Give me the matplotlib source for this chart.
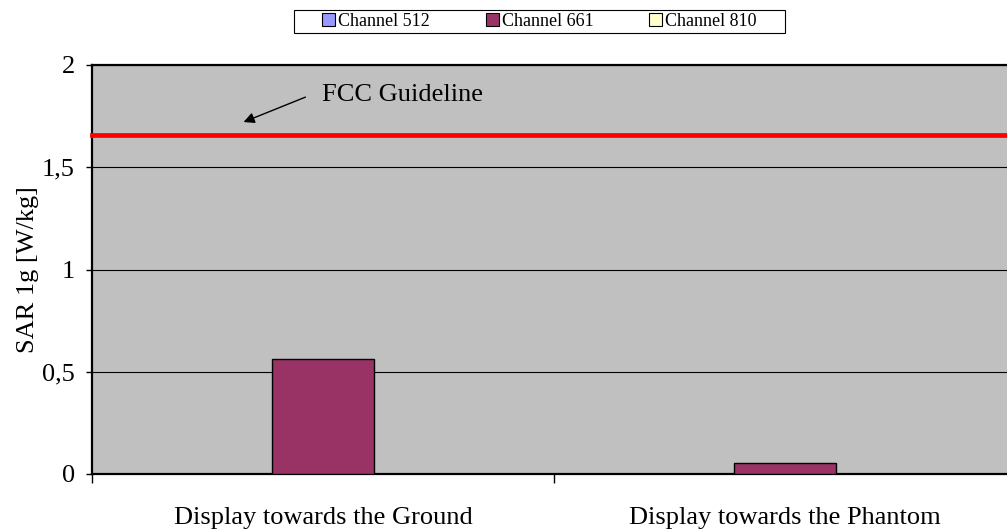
import numpy as np
import matplotlib
matplotlib.use("Agg")
import matplotlib.pyplot as plt
from matplotlib.patches import Patch, Rectangle

# data
categories = ["Display towards the Ground", "Display towards the Phantom"]
series_names = ["Channel 512", "Channel 661", "Channel 810"]
ch512 = [0.0, 0.0]
ch661 = [0.564, 0.056]
ch810 = [0.0, 0.0]
fcc_level = 1.656
y_ticks = [0, 0.5, 1, 1.5, 2]
y_tick_labels = ["0", "0,5", "1", "1,5", "2"]

colors = ["#9999FF", "#993366", "#FFFFCC"]

plt.rcParams["font.family"] = ["Liberation Serif", "DejaVu Serif"]

W, H = 1007, 531
fig = plt.figure(figsize=(W / 100, H / 100), dpi=100)
ax = fig.add_axes([92 / W, 57 / H, 924 / W, 409 / H])
ax.set_facecolor("#C0C0C0")

x = np.arange(len(categories))
w = 1 / 4.5
for i, vals in enumerate([ch512, ch661, ch810]):
    ax.bar(x + (i - 1) * w, vals, w, color=colors[i], edgecolor="black",
           linewidth=1, zorder=3)

ax.axhline(fcc_level, color="#FF0000", lw=3.4, zorder=4, clip_on=False)

ax.set_xlim(-0.5, 1.5)
ax.set_ylim(0, 2)
ax.set_yticks(y_ticks)
ax.set_yticklabels(y_tick_labels, fontsize=19)
ax.yaxis.grid(True, color="black", lw=0.8)
ax.set_axisbelow(True)
ax.tick_params(axis="y", length=4.5, width=1, pad=8)

ax.set_xticks([-0.5, 0.5, 1.5])
ax.set_xticklabels([])
ax.tick_params(axis="x", which="major", length=6.5, width=1)
ax.set_xticks(x, minor=True)
ax.set_xticklabels(categories, minor=True, fontsize=19)
ax.tick_params(axis="x", which="minor", length=0, pad=24)

ax.set_ylabel("SAR 1g [W/kg]", fontsize=19, labelpad=2)

for s in ["left", "bottom", "top"]:
    ax.spines[s].set_linewidth(1.6)
    ax.spines[s].set_color("black")
ax.spines["right"].set_visible(False)

ax.annotate("", xy=(-0.1775, 1.716), xytext=(-0.0325, 1.848),
            arrowprops=dict(arrowstyle="-|>", color="black", lw=1,
                            mutation_scale=16))
ax.text(-0.002, 1.824, "FCC Guideline", fontsize=19, va="baseline")

handles = [Patch(facecolor=c, edgecolor="black", lw=0.8) for c in colors]
fig.legend(handles, series_names, loc="center",
           bbox_to_anchor=(539.5 / W, 1 - 21.5 / H), frameon=False, ncol=3,
           fontsize=13, handlelength=0.72, handleheight=0.72,
           handletextpad=0.15, columnspacing=3.1, borderpad=0.1)
fig.add_artist(Rectangle((294 / W, 1 - 33 / H), 491 / W, 23 / H,
                         transform=fig.transFigure, fill=False,
                         edgecolor="black", lw=0.8))

fig.savefig("out.png", dpi=100)
